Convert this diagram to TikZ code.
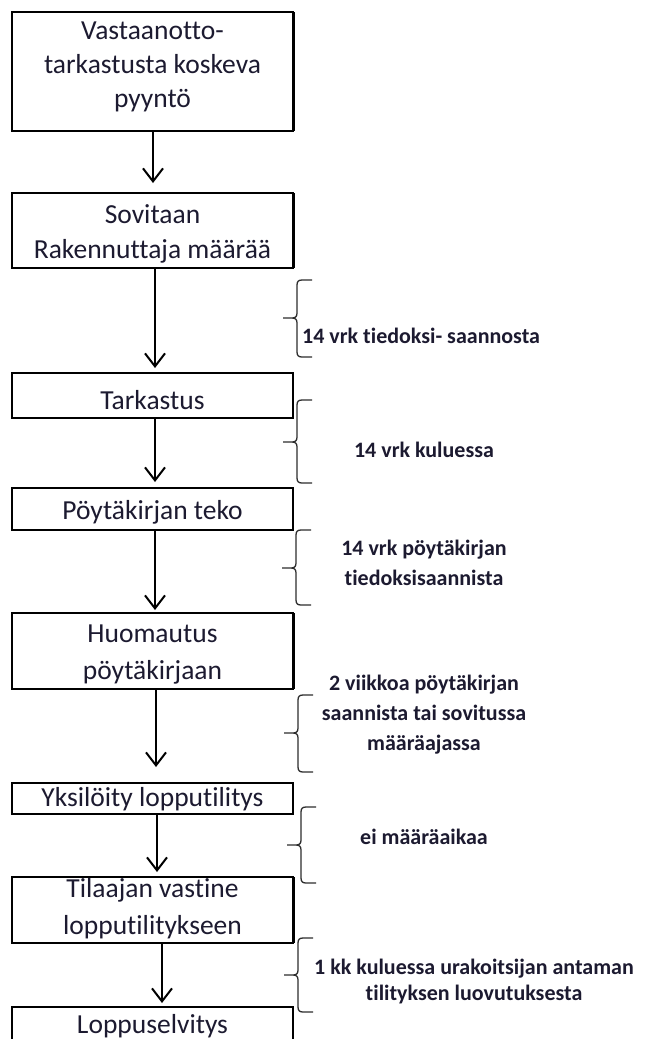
\documentclass[tikz,border=0pt]{standalone}
\usepackage{fontspec}
\setmainfont{Carlito}[Ligatures=NoCommon]
\usetikzlibrary{arrows.meta}
\definecolor{ink}{RGB}{28,26,48}
\definecolor{bracegray}{RGB}{45,45,45}
\begin{document}
\begin{tikzpicture}[x=1pt,y=-1pt,
  stepbox/.style={draw=black, line width=1.6pt, outer sep=0pt, inner sep=0pt,
    minimum width=281pt},
  heavybox/.style={stepbox, line width=2.8pt},
  boxtext/.style={inner sep=0pt, align=center, text=ink,
    font=\fontsize{27.5pt}{#1}\selectfont},
  boxtext/.default=35pt,
  flow/.style={draw=black, line width=2pt,
    -{Straight Barb[length=13pt,width=20pt,line width=2pt]}},
  bracket/.style={draw=bracegray, line width=1.3pt},
  note/.style={text=ink, align=center, inner sep=0pt,
    font=\fontsize{22pt}{#1}\selectfont\bfseries},
  note/.default=30pt]

% page
\path[fill=white] (0,0) rectangle (652,1039);
\useasboundingbox (0,0) rectangle (652,1039);

% process step frames
\node[stepbox,  minimum height=119pt] (b1) at (152.5,71.5) {};
\node[stepbox,  minimum height=75pt]  (b2) at (152.5,230.5) {};
\node[heavybox, minimum height=45pt]  (b3) at (152.5,395.5) {};
\node[heavybox, minimum height=42pt]  (b4) at (152.5,509) {};
\node[stepbox,  minimum height=76pt]  (b5) at (152.5,651) {};
\node[heavybox, minimum height=31pt]  (b6) at (152.5,798.5) {};
\node[stepbox,  minimum height=66pt]  (b7) at (152.5,910) {};
\node[heavybox, minimum height=38pt]  (b8) at (152.5,1026) {};

% heavier right edges
\foreach \b in {b1,b2,b5,b7}
  \draw[line width=3pt] (\b.north east) -- (\b.south east);

% step texts
\node[boxtext=34pt] (t1) at ([yshift=5pt]b1.center) {Vastaanotto-\\tarkastusta koskeva\\pyyntö};
\node[boxtext] (t2) at ([yshift=-3pt]b2.center) {Sovitaan\\Rakennuttaja määrää};
\node[boxtext] (t3) at ([yshift=-5pt]b3.center) {Tarkastus};
\node[boxtext] (t4) at ([yshift=-3pt]b4.center) {Pöytäkirjan teko};
\node[boxtext=37pt] (t5) at ([yshift=-4pt]b5.center) {Huomautus\\pöytäkirjaan};
\node[boxtext] (t6) at ([yshift=-1pt]b6.center) {Yksilöity lopputilitys};
\node[boxtext=37pt] (t7) at ([yshift=1pt]b7.center) {Tilaajan vastine\\lopputilitykseen};
\node[boxtext] (t8) at (b8.center) {Loppuselvitys};

% connectors
\draw[flow, shorten >=10pt] ([xshift=0.5pt]b1.south) -- ([xshift=0.5pt]b2.north);
\draw[flow, shorten >=5pt]  ([xshift=2.5pt]b2.south) -- ([xshift=2.5pt]b3.north);
\draw[flow, shorten >=6pt]  ([xshift=2.5pt]b3.south) -- ([xshift=2.5pt]b4.north);
\draw[flow, shorten >=3pt]  ([xshift=2.5pt]b4.south) -- ([xshift=2.5pt]b5.north);
\draw[flow, shorten >=16pt] ([xshift=3.5pt]b5.south) -- ([xshift=3.5pt]b6.north);
\draw[flow, shorten >=5pt]  ([xshift=4.5pt]b6.south) -- ([xshift=4.5pt]b7.north);
\draw[flow, shorten >=4pt]  ([xshift=9.5pt]b7.south) -- ([xshift=9.5pt]b8.north);

% curly brackets: x / top / tick / bottom
\foreach \bx/\bt/\bm/\bb in {297/280/318/357, 297/400/442/483, 296/530/568/605,
                            298/695/733/772, 301/807/845/883, 298/938/975/1012}
  \draw[bracket] (\bx+15,\bt) -- (\bx+5,\bt)
      .. controls (\bx+1.5,\bt) and (\bx,\bt+1.5) .. (\bx,\bt+5)
      -- (\bx,\bm-5)
      .. controls (\bx,\bm-1.5) and (\bx-1.5,\bm) .. (\bx-5,\bm) -- (\bx-14,\bm)
      (\bx-5,\bm) .. controls (\bx-1.5,\bm) and (\bx,\bm+1.5) .. (\bx,\bm+5)
      -- (\bx,\bb-5)
      .. controls (\bx,\bb-1.5) and (\bx+1.5,\bb) .. (\bx+5,\bb) -- (\bx+15,\bb);

% time limits
\node[note, anchor=west] (n1) at (302,336) {14 vrk tiedoksi- saannosta};
\node[note] (n2) at (424,450) {14 vrk kuluessa};
\node[note] (n3) at (424,563) {14 vrk pöytäkirjan\\tiedoksisaannista};
\node[note] (n4) at (424,715) {2 viikkoa pöytäkirjan\\saannista tai sovitussa\\määräajassa};
\node[note] (n5) at (424,837) {ei määräaikaa};
\node[note=26pt] (n6) at (474,981) {1 kk kuluessa urakoitsijan antaman\\tilityksen luovutuksesta};
\end{tikzpicture}
\end{document}
